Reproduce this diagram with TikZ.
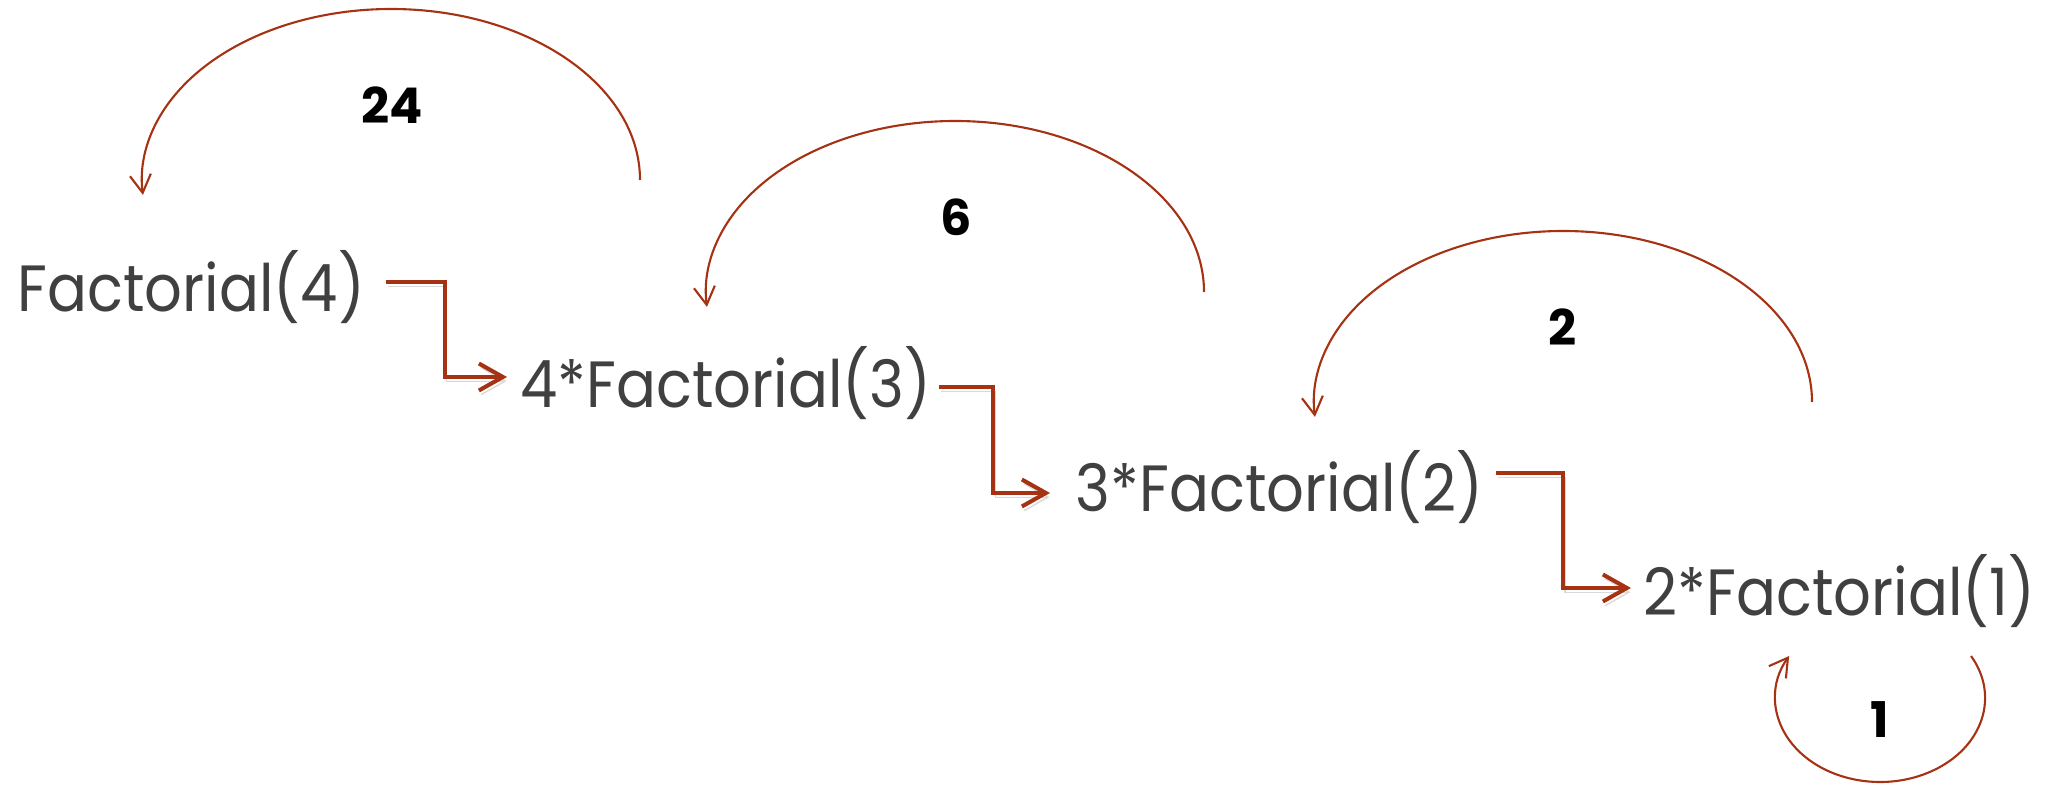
\documentclass[tikz,border=0pt]{standalone}
\usepackage{fontspec}
\setmainfont{Poppins}
\newfontfamily\callfont{Poppins}[FakeStretch=0.905]
\usetikzlibrary{arrows.meta}
\definecolor{callred}{RGB}{166,50,20}
\definecolor{txtgray}{RGB}{64,64,64}

\begin{document}
\begin{tikzpicture}[
  call/.style={anchor=base west, inner sep=0pt, text=txtgray, font=\callfont\fontsize{18.6}{20}\selectfont},
  retval/.style={inner sep=0pt, font=\fontsize{14}{16}\selectfont\bfseries},
  elbow/.style={callred, line width=1.15pt, -{Straight Barb[length=2.4mm,width=2.7mm]},
    preaction={draw=black!15, transform canvas={shift={(0.6pt,-1.2pt)}}}},
  retarc/.style={callred, line width=0.6pt, -{Straight Barb[length=1.8mm,width=2.1mm]}}]
  \useasboundingbox (0,0) rectangle (20.67,7.85);

  % the calls
  \node[call] (f4) at (0.17,4.73) {Factorial(4)};
  \node[call] (f3) at (5.20,3.77) {4*Factorial(3)};
  \node[call] (f2) at (10.75,2.73) {3*Factorial(2)};
  \node[call] (f1) at (16.43,1.70) {2*Factorial(1)};

  \draw[elbow] ([shift={(0.20,0.30)}]f4.base east) -- ++(0.59,0) |- ([shift={(-0.13,0.31)}]f3.base west);
  \draw[elbow] ([shift={(0.07,0.21)}]f3.base east) -- ++(0.54,0) |- ([shift={(-0.25,0.19)}]f2.base west);
  \draw[elbow] ([shift={(0.12,0.39)}]f2.base east) -- ++(0.67,0) |- ([shift={(-0.12,0.27)}]f1.base west);

  % the return values
  \coordinate (r24) at (6.40,6.05);
  \coordinate (r6) at (12.04,4.93);
  \coordinate (r2) at (18.12,3.83);
  \coordinate (r1) at (19.71,1.29);
  \draw[retarc] (r24) arc[start angle=0, end angle=185, x radius=2.49, y radius=1.71];
  \draw[retarc] (r6) arc[start angle=0, end angle=185, x radius=2.49, y radius=1.71];
  \draw[retarc] (r2) arc[start angle=0, end angle=185, x radius=2.49, y radius=1.71];
  \draw[retarc] (r1) arc[start angle=30, end angle=-210, x radius=1.05, y radius=0.84];

  \node[retval] (v24) at (3.92,6.80) {24};
  \node[retval] (v6) at (9.56,5.68) {6};
  \node[retval] (v2) at (15.63,4.58) {2};
  \node[retval] (v1) at (18.80,0.65) {1};
\end{tikzpicture}
\end{document}
